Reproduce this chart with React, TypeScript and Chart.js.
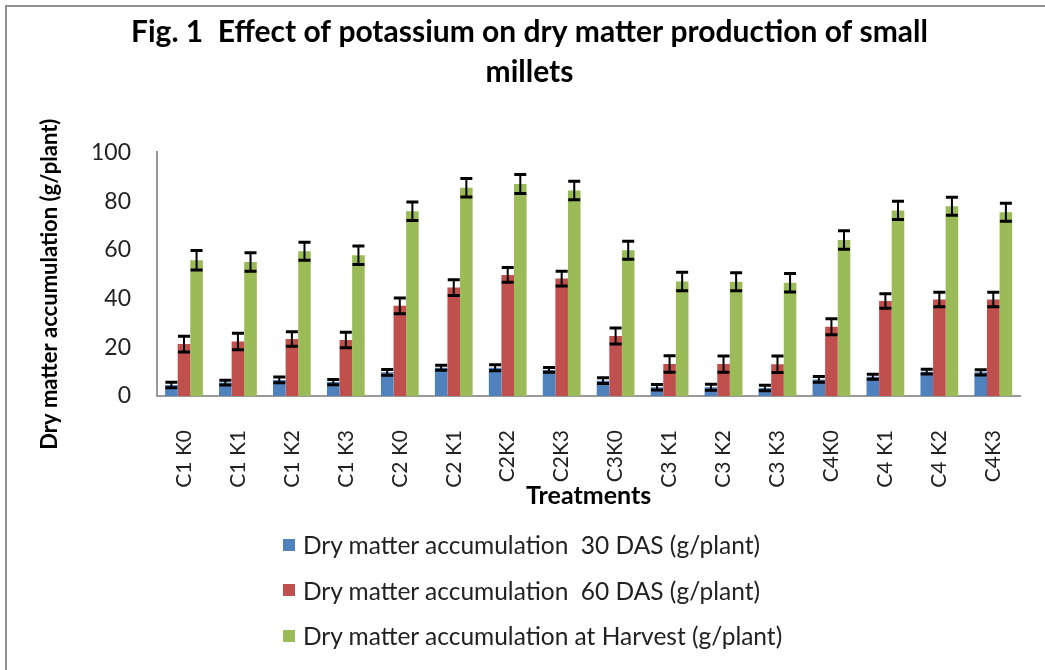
import React, { useEffect, useRef } from "react";
import { Chart, registerables } from "chart.js";
Chart.register(...registerables);

const categories = ["C1 K0", "C1 K1", "C1 K2", "C1 K3", "C2 K0", "C2 K1", "C2K2", "C2K3", "C3K0", "C3 K1", "C3 K2", "C3 K3", "C4K0", "C4 K1", "C4 K2", "C4K3"];
const dm30 = [4.5, 5.5, 6.6, 5.7, 9.7, 11.6, 11.6, 10.7, 6.3, 3.6, 3.6, 3.3, 6.8, 7.9, 10.0, 9.7];
const dm30Err = [1.1, 1.0, 1.2, 1.1, 1.2, 1.0, 1.2, 1.0, 1.2, 1.1, 1.2, 1.1, 1.2, 1.0, 1.0, 1.1];
const dm60 = [21.3, 22.4, 23.4, 23.0, 37.0, 44.5, 49.7, 48.2, 24.6, 13.1, 13.1, 13.0, 28.4, 39.0, 39.6, 39.6];
const dm60Err = [3.2, 3.4, 3.0, 3.2, 3.2, 3.2, 3.0, 3.0, 3.3, 3.4, 3.3, 3.4, 3.3, 3.0, 3.0, 3.0];
const dmHarvest = [55.7, 55.0, 59.4, 57.8, 75.8, 85.5, 87.0, 84.4, 59.8, 47.0, 46.9, 46.5, 64.0, 76.2, 77.9, 75.4];
const dmHarvestErr = [4.0, 3.8, 3.7, 3.8, 3.8, 3.8, 3.9, 3.8, 3.7, 3.8, 3.7, 3.8, 3.8, 3.7, 3.7, 3.7];
const seriesNames = [
  "Dry matter accumulation  30 DAS (g/plant)",
  "Dry matter accumulation  60 DAS (g/plant)",
  "Dry matter accumulation at Harvest (g/plant)",
];
const seriesColors = ["#4F81BD", "#C0504D", "#9BBB59"];
const yTicks = [0, 20, 40, 60, 80, 100];
const titleLines = ["Fig. 1  Effect of potassium on dry matter production of small", "millets"];
const xTitle = "Treatments";
const yTitle = "Dry matter accumulation (g/plant)";

const FONT = "Lato, 'Open Sans', sans-serif";

const errorBarPlugin = {
  id: "errorBars",
  afterDatasetsDraw(chart: any) {
    const ctx = chart.ctx;
    const y = chart.scales.y;
    chart.data.datasets.forEach((ds: any, i: number) => {
      const meta = chart.getDatasetMeta(i);
      meta.data.forEach((bar: any, j: number) => {
        const v = ds.data[j];
        const e = ds.errors[j];
        const top = y.getPixelForValue(v + e);
        const bot = y.getPixelForValue(v - e);
        const x = bar.x;
        const half = Math.min(bar.width / 2, 6);
        ctx.save();
        ctx.strokeStyle = "#000";
        ctx.lineWidth = 2;
        ctx.beginPath();
        ctx.moveTo(x, top);
        ctx.lineTo(x, bot);
        ctx.stroke();
        ctx.lineWidth = 3;
        ctx.beginPath();
        ctx.moveTo(x - half, top);
        ctx.lineTo(x + half, top);
        ctx.moveTo(x - half, bot);
        ctx.lineTo(x + half, bot);
        ctx.stroke();
        ctx.restore();
      });
    });
  },
};

const yTitlePlugin = {
  id: "yTitle",
  afterDraw(chart: any) {
    const ctx = chart.ctx;
    const ca = chart.chartArea;
    ctx.save();
    ctx.translate(50, (ca.top + ca.bottom) / 2 + 10);
    ctx.rotate(-Math.PI / 2);
    ctx.font = `bold 22px ${FONT}`;
    ctx.textAlign = "center";
    ctx.textBaseline = "middle";
    ctx.fillStyle = "#000";
    ctx.fillText(yTitle, 0, 0);
    ctx.restore();
  },
};

export default function App() {
  const ref = useRef<HTMLCanvasElement>(null);
  useEffect(() => {
    if (!ref.current) return;
    const values = [dm30, dm60, dmHarvest];
    const errs = [dm30Err, dm60Err, dmHarvestErr];
    const chart = new Chart(ref.current, {
      type: "bar",
      data: {
        labels: categories,
        datasets: seriesNames.map((name, i) => ({
          label: name,
          data: values[i],
          errors: errs[i],
          backgroundColor: seriesColors[i],
          borderWidth: 0,
          barPercentage: 1,
          categoryPercentage: 0.7,
        })) as any,
      },
      options: {
        animation: false,
        responsive: false,
        devicePixelRatio: 1,
        layout: { padding: { left: 30, right: 16, top: 0, bottom: 150 } },
        plugins: {
          legend: { display: false },
          tooltip: { enabled: false },
          title: {
            display: true,
            text: titleLines,
            color: "#000",
            font: { family: FONT, size: 30, weight: "bold", lineHeight: 1.34 },
            padding: { top: 12, bottom: 60 },
          },
        },
        scales: {
          x: {
            grid: { display: false },
            border: { display: true, color: "#999", width: 2 },
            ticks: {
              color: "#222",
              font: { family: FONT, size: 21 },
              minRotation: 90,
              maxRotation: 90,
              padding: 26,
              autoSkip: false,
            },
            title: {
              display: true,
              text: xTitle,
              color: "#000",
              font: { family: FONT, size: 25, weight: "bold" },
              padding: { top: 0, bottom: 9 },
            },
            afterFit: (s: any) => {
              s.height = 124;
            },
          },
          y: {
            min: 0,
            max: 100,
            grid: { display: false },
            border: { display: true, color: "#999", width: 2 },
            ticks: {
              color: "#222",
              font: { family: FONT, size: 23 },
              padding: 18,
            },
            afterBuildTicks: (s: any) => {
              s.ticks = yTicks.map((v) => ({ value: v }));
            },
            afterFit: (s: any) => {
              s.width = 127;
            },
          },
        },
      },
      plugins: [errorBarPlugin, yTitlePlugin],
    });
    return () => chart.destroy();
  }, []);

  return (
    <div style={{ position: "fixed", left: 0, top: 0, width: 1045, height: 670, background: "#fff", overflow: "hidden" }}>
      <canvas ref={ref} width={1045} height={670} style={{ position: "absolute", left: 0, top: 0, width: 1045, height: 670 }} />
      <div style={{ position: "absolute", left: 5, top: 5, width: 1100, height: 700, borderTop: "2px solid #909090", borderLeft: "2px solid #909090", pointerEvents: "none" }} />
      <div style={{ position: "absolute", left: 283, top: 522, fontFamily: FONT, fontSize: 24.5, color: "#222" }}>
        {seriesNames.map((n, i) => (
          <div key={n} style={{ height: 45.5, display: "flex", alignItems: "center", whiteSpace: "pre" }}>
            <span style={{ display: "inline-block", width: 12, height: 12, background: seriesColors[i], marginRight: 8 }} />
            <span>{n}</span>
          </div>
        ))}
      </div>
    </div>
  );
}
